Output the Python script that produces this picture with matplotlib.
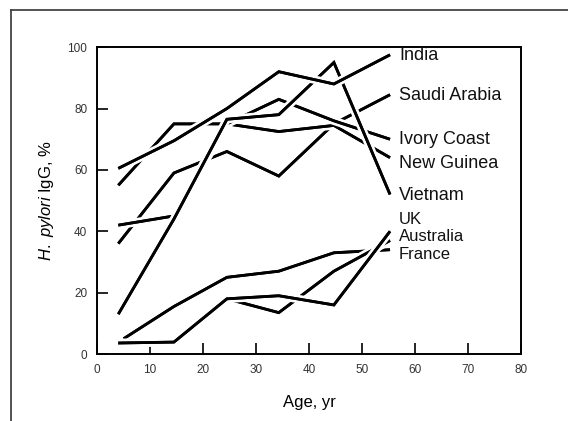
import matplotlib.pyplot as plt
import matplotlib.patheffects as pe
from matplotlib.lines import Line2D

plt.rcParams['font.family'] = ['Liberation Sans', 'DejaVu Sans']
plt.rcParams['mathtext.fontset'] = 'custom'
plt.rcParams['mathtext.it'] = 'Liberation Sans:italic'
plt.rcParams['mathtext.rm'] = 'Liberation Sans'

# edad media de cada grupo (años)
edad = [4, 14.5, 24.5, 34.3, 44.7, 55.3]
edad_fr = [5, 14.5, 24.5, 34.3, 44.7, 55.3]

# % seropositivos H. pylori IgG
india = [60.5, 69.5, 80, 92, 88, 97.5]
saudi = [36, 59, 66, 58, 75, 84.5]
ivory = [42, 45, 75, 83, 76, 70]
guinea = [55, 75, 75, 72.5, 74.5, 64]
vietnam = [13, 44, 76.5, 78, 95, 52]
uk = [3.6, 3.9, 18, 19, 16, 40]
australia = [3.6, 3.9, 18, 13.5, 27, 37]
france = [5, 15.5, 25, 27, 33, 34]

series = [france, australia, uk, saudi, guinea, ivory, vietnam, india]
paises = ["France", "Australia", "UK", "Saudi Arabia", "New Guinea",
          "Ivory Coast", "Vietnam", "India"]
pos_etiqueta = [32.6, 38.2, 43.8, 84.4, 62.2, 70, 51.8, 97.4]

fig = plt.figure(figsize=(5.68, 4.21), dpi=100)
ax = fig.add_axes([0.171, 0.159, 0.746, 0.729])

efecto = [pe.withStroke(linewidth=6, foreground='white'), pe.Normal()]

for datos, pais, ye in zip(series, paises, pos_etiqueta):
    xs = edad_fr if pais == "France" else edad
    ax.plot(xs, datos, color='black', lw=2.0, solid_capstyle='butt',
            solid_joinstyle='miter', path_effects=efecto)
    tam = 12 if pais in ("UK", "Australia", "France") else 13
    ax.text(57, ye, pais, fontsize=tam, va='center', ha='left', color='#111111')

ax.set_xlim(0, 80)
ax.set_ylim(0, 100)
ax.set_xticks(range(0, 81, 10))
ax.set_xticklabels(["0", "10", "20", "30", "40", "50", "60", "70", "80"])
ax.set_yticks(range(0, 101, 20))
ax.tick_params(direction='in', length=8, width=1.2, labelsize=8.5,
               labelcolor='#333333', pad=7)

for s in ax.spines.values():
    s.set_linewidth(1.4)

ax.set_xlabel("Age, yr", fontsize=12, labelpad=14)
ax.set_ylabel(r"$\it{H.\ pylori}$ IgG, %", fontsize=12, labelpad=8)

# marco del escaneo
fig.add_artist(Line2D([11 / 568, 1], [1 - 10 / 421, 1 - 10 / 421],
                      color='#444444', lw=1.3, transform=fig.transFigure))
fig.add_artist(Line2D([11 / 568, 11 / 568], [0, 1 - 10 / 421],
                      color='#444444', lw=1.3, transform=fig.transFigure))

fig.savefig("out.png", dpi=100)
